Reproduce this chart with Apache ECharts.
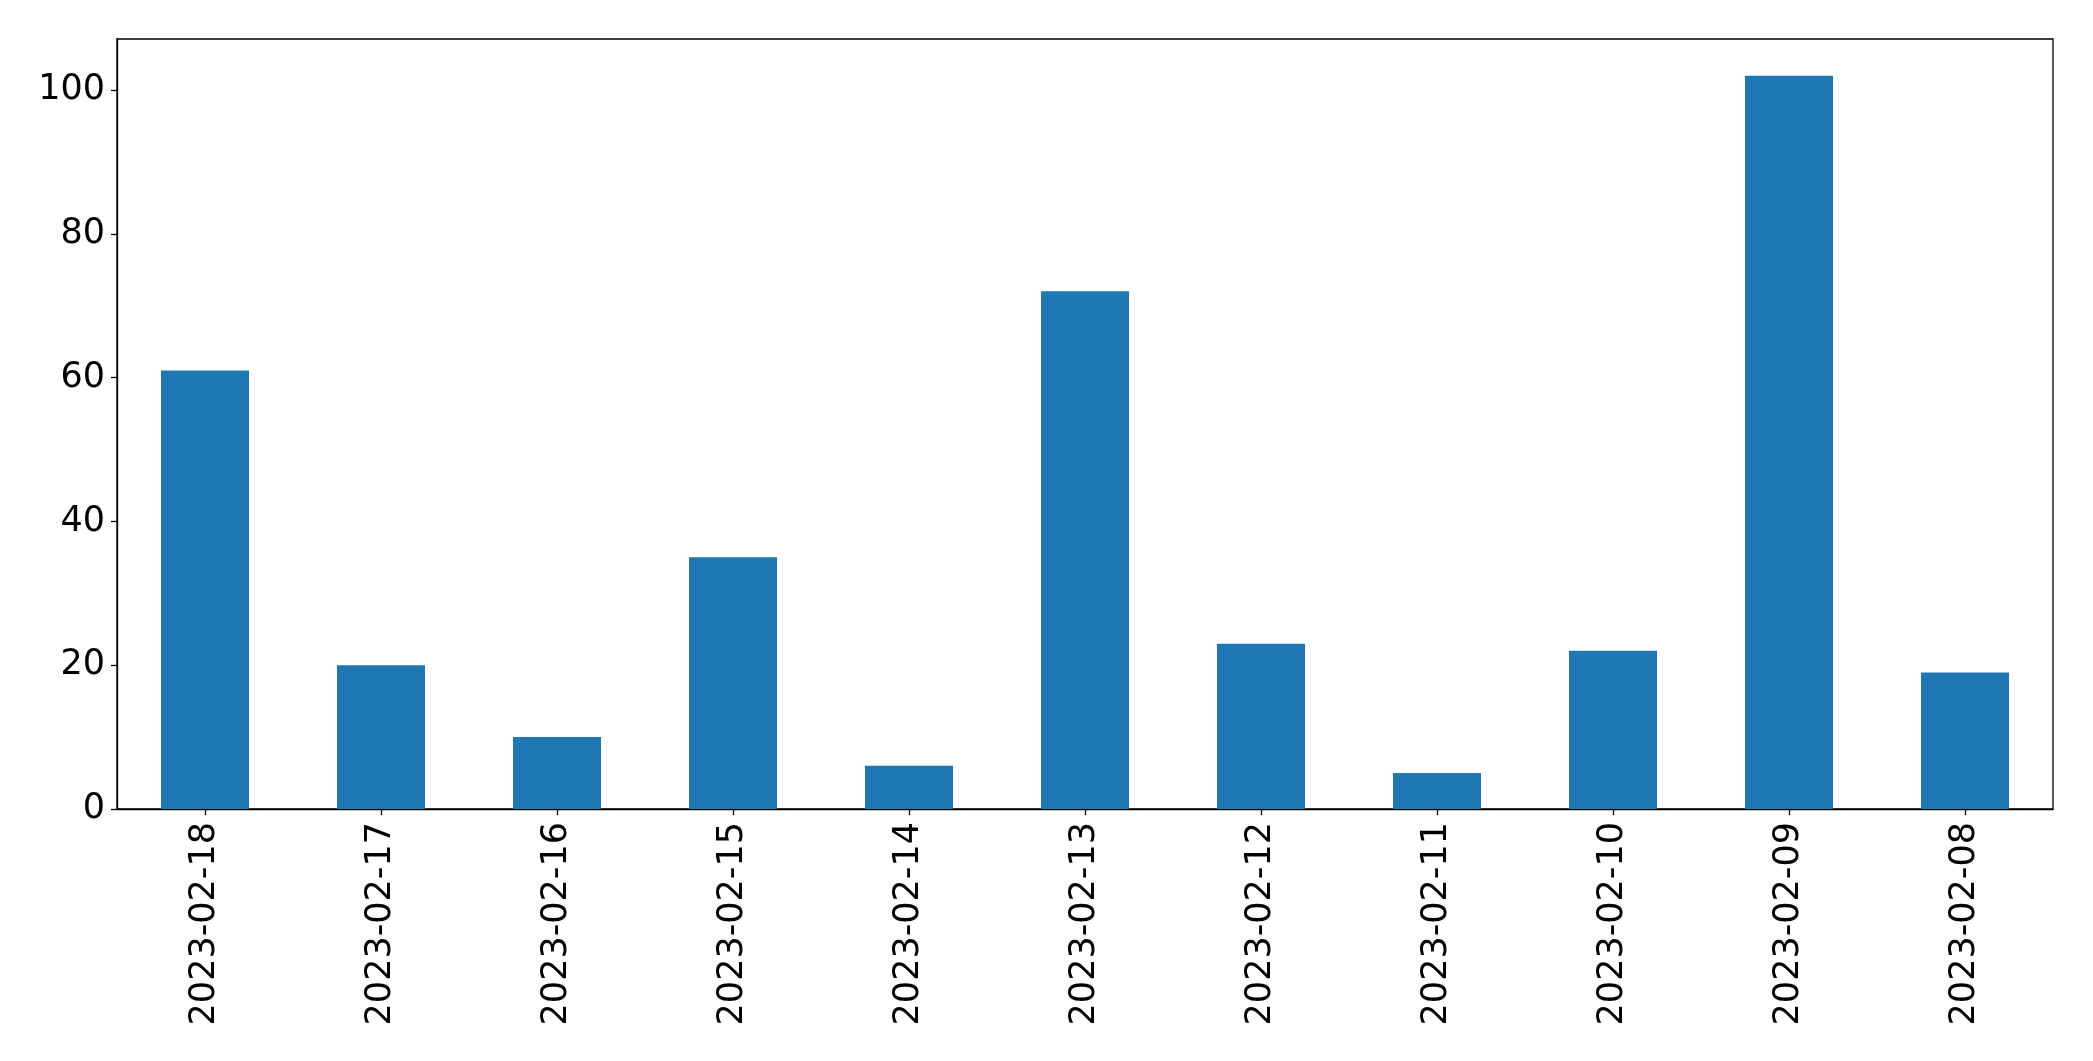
<!DOCTYPE html>
<html>
<head>
<meta charset="utf-8">
<script src="https://cdn.jsdelivr.net/npm/echarts@6/dist/echarts.min.js"></script>
<style>html,body{margin:0;padding:0;background:#fff;}#c{width:2093px;height:1061px;}</style>
</head>
<body>
<div id="c"></div>
<script>
const categories = ['2023-02-18','2023-02-17','2023-02-16','2023-02-15','2023-02-14','2023-02-13','2023-02-12','2023-02-11','2023-02-10','2023-02-09','2023-02-08'];
const values = [61, 20, 10, 35, 6, 72, 23, 5, 22, 102, 19];
const yTicks = [0, 20, 40, 60, 80, 100];

const chart = echarts.init(document.getElementById('c'), null, {renderer: 'canvas'});
const font = 'DejaVu Sans';
chart.setOption({
  animation: false,
  backgroundColor: '#ffffff',
  grid: {
    left: 117, right: 40, top: 39, bottom: 252,
    show: true, borderColor: '#000', borderWidth: 1.3, backgroundColor: 'transparent'
  },
  xAxis: {
    type: 'category',
    data: categories,
    boundaryGap: true,
    axisLine: {show: true, lineStyle: {color: '#000', width: 1.3}},
    axisTick: {show: true, alignWithLabel: true, length: 6, lineStyle: {color: '#000', width: 1.3}},
    axisLabel: {rotate: 90, fontFamily: font, fontSize: 35, color: '#000', margin: 13, interval: 0},
    splitLine: {show: false}
  },
  yAxis: {
    type: 'value',
    min: 0, max: 107.1, interval: 20,
    axisLine: {show: true, lineStyle: {color: '#000', width: 1.3}},
    axisTick: {show: true, length: 6, lineStyle: {color: '#000', width: 1.3}, customValues: yTicks},
    axisLabel: {fontFamily: font, fontSize: 35, color: '#000', margin: 12, customValues: yTicks},
    splitLine: {show: false}
  },
  series: [{
    type: 'bar',
    data: values,
    barWidth: '50%',
    itemStyle: {color: '#1f77b4'}
  }]
});
</script>
</body>
</html>
